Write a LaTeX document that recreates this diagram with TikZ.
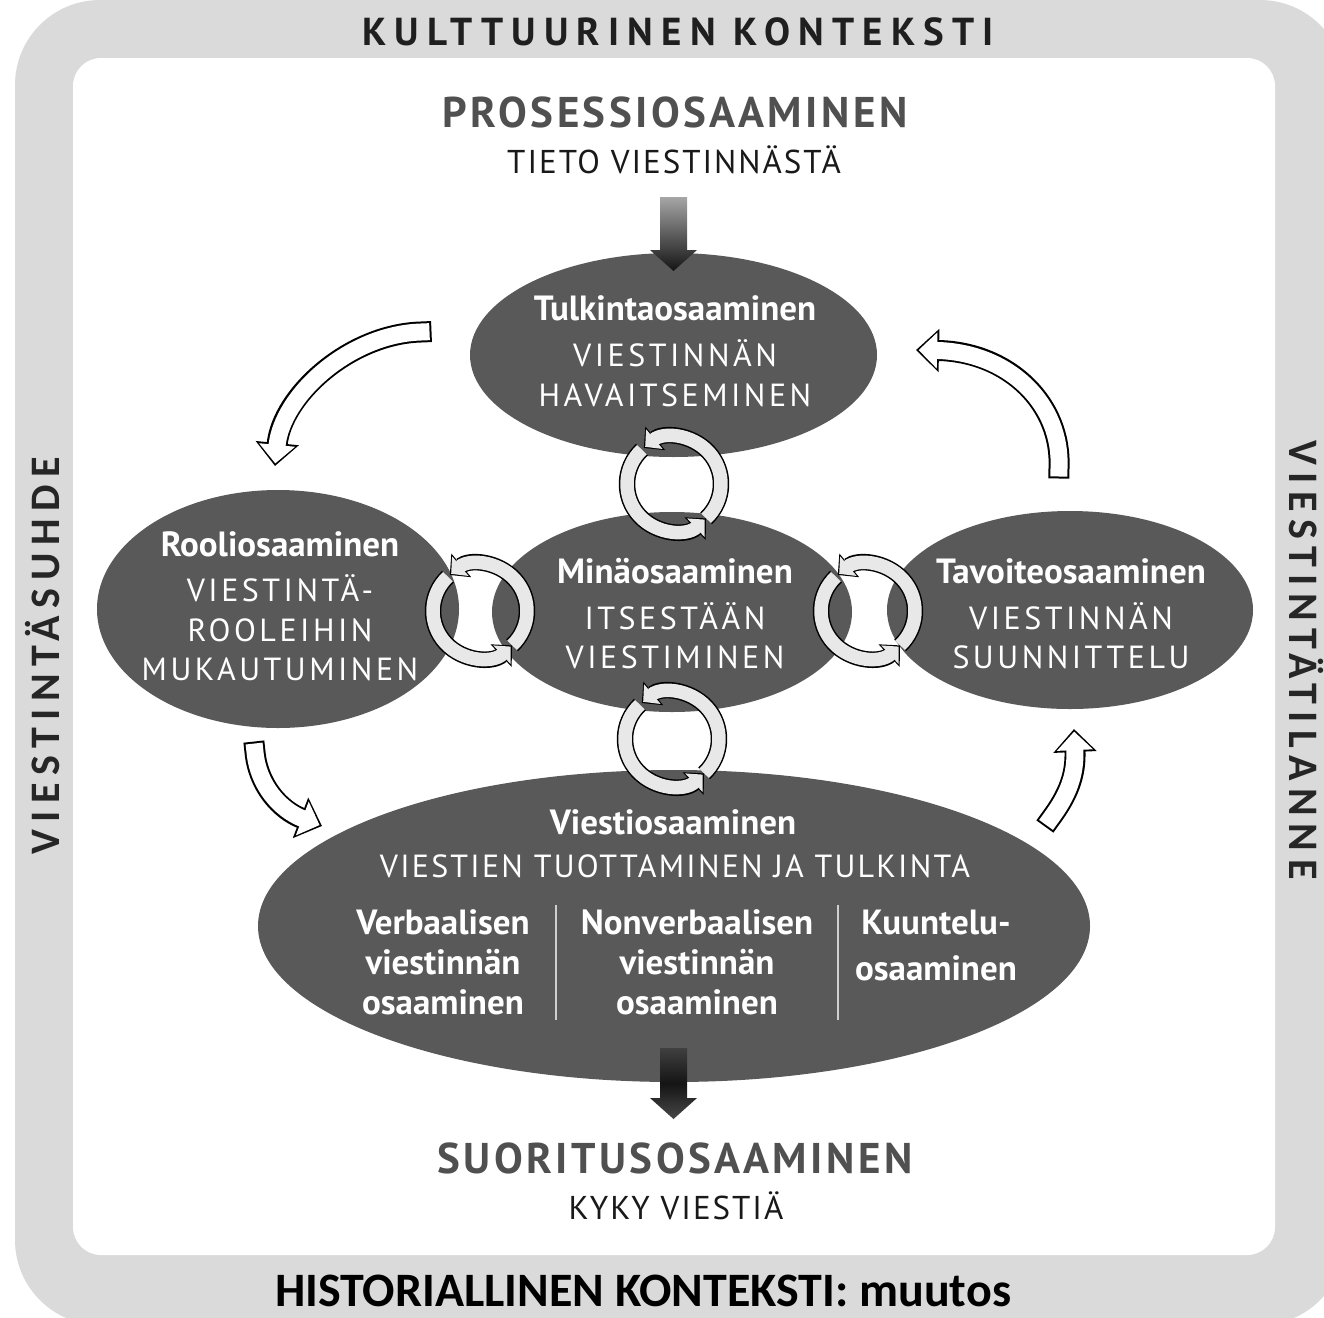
\documentclass[tikz,border=0pt]{standalone}
\usepackage{fontspec}
\setmainfont{PT Sans}
\newfontfamily\calib{Carlito}
\usetikzlibrary{arrows.meta}

\definecolor{framegray}{HTML}{D9DAD9}
\definecolor{ellgray}{HTML}{595959}
\definecolor{headgray}{HTML}{505050}
\definecolor{ringgray}{HTML}{E8E8E8}
\definecolor{divgray}{HTML}{CFCFCF}

\newcommand\labfont{\normalfont\bfseries\fontsize{35}{40}\selectfont}
\newcommand\capsfont{\fontsize{32}{39.5}\selectfont\addfontfeature{LetterSpace=11}}

\tikzset{
  ctx/.style={font=\bfseries\fontsize{39}{44}\selectfont\addfontfeature{LetterSpace=21}, text=black!88, anchor=base, inner sep=0pt},
  proc/.style={font=\bfseries\fontsize{43}{48}\selectfont\addfontfeature{LetterSpace=8}, text=headgray, anchor=base, inner sep=0pt},
  sub/.style={font=\fontsize{33}{38}\selectfont\addfontfeature{LetterSpace=6}, text=black!90, anchor=base, inner sep=0pt},
  hist/.style={font=\calib\bfseries\fontsize{48}{52}\selectfont, anchor=base, inner sep=0pt},
  side/.style={font=\calib\bfseries\fontsize{42}{46}\selectfont\addfontfeature{LetterSpace=18}, text=black!85, anchor=base, inner sep=0pt},
  eltext/.style={font=\capsfont, text=white, align=center, inner sep=0pt},
  coltext/.style={font=\labfont, text=white, align=center, inner sep=0pt},
  ell/.style={fill=ellgray},
  divider/.style={draw=divgray, line width=2pt},
  hollowout/.style={line width=21pt, line cap=rect, -{Triangle[length=23pt, width=42pt]}},
  hollowin/.style={line width=17pt, line cap=rect, white, shorten >=2.6pt, -{Triangle[length=18.5pt, width=35pt]}},
  ringout/.style={line width=16.5pt, black, -{Triangle[length=15pt, width=30pt]}},
  ringin/.style={line width=13.5pt, ringgray, shorten >=1.8pt, -{Triangle[length=12pt, width=25pt]}},
  darkdown/.style={top color=black!35, bottom color=black!92},
  darkout/.style={top color=black!75, bottom color=black!72, middle color=black!92},
}

\newcommand\hollowarrow[1]{\draw[hollowout] #1; \draw[hollowin] #1;}
\newcommand\cyclering[1]{%
  \begin{scope}[shift={(#1)}]
    \draw[ringout] (-47:47) arc[start angle=-47, end angle=130, radius=47];
    \draw[ringin] (-47:47) arc[start angle=-47, end angle=130, radius=47];
    \draw[ringout] (133:47) arc[start angle=133, end angle=313, radius=47];
    \draw[ringin] (133:47) arc[start angle=133, end angle=313, radius=47];
  \end{scope}}

\begin{document}
\begin{tikzpicture}[x=1pt, y=1pt]
  \useasboundingbox (0,0) rectangle (1324,-1317);
  \clip (0,0) rectangle (1324,-1317);
  % frame
  \fill[framegray, rounded corners=85pt] (15,0) rectangle (1345,-1325);
  \fill[white, rounded corners=28pt] (73,-58) rectangle (1275,-1255);
  \node[ctx] (kult) at (678,-45) {KULTTUURINEN KONTEKSTI};
  \node[hist] (hist) at (643,-1306) {HISTORIALLINEN KONTEKSTI: muutos};
  \node[side, rotate=90] (suhde) at (59,-656) {VIESTINTÄSUHDE};
  \node[side, rotate=-90] (tilanne) at (1289,-660) {VIESTINTÄTILANNE};
  \node[proc] (pros) at (675,-127) {PROSESSIOSAAMINEN};
  \node[sub] (tieto) at (674,-173) {TIETO VIESTINNÄSTÄ};
  \node[proc] (suor) at (675,-1173) {SUORITUSOSAAMINEN};
  \node[sub] (kyky) at (676,-1219) {KYKY VIESTIÄ};

  % ellipses
  \coordinate (tulkc) at (673.5,-355);
  \coordinate (roolic) at (278,-609);
  \coordinate (minac) at (672,-612);
  \coordinate (tavc) at (1070,-610);
  \coordinate (viestic) at (674,-926);
  \fill[ell] (tulkc) ellipse [x radius=203.5, y radius=102];
  \fill[ell] (roolic) ellipse [x radius=181, y radius=119];
  \fill[ell] (minac) ellipse [x radius=180, y radius=100];
  \fill[ell] (tavc) ellipse [x radius=183, y radius=99];
  \fill[ell] (viestic) ellipse [x radius=416, y radius=156];

  \node[eltext] (tulk) at (675,-351) {{\labfont Tulkintaosaaminen}\\[6.5pt]VIESTINNÄN\\HAVAITSEMINEN};
  \node[eltext] (rooli) at (280,-606) {{\labfont Rooliosaaminen}\\[6pt]VIESTINTÄ-\\ROOLEIHIN\\MUKAUTUMINEN};
  \node[eltext] (mina) at (675,-614) {{\labfont Minäosaaminen}\\[6pt]ITSESTÄÄN\\VIESTIMINEN};
  \node[eltext] (tav) at (1071,-614) {{\labfont Tavoiteosaaminen}\\[6pt]VIESTINNÄN\\SUUNNITTELU};
  \node[coltext] (viesti) at (673,-822) {Viestiosaaminen};
  \node[eltext, font=\fontsize{32}{38}\selectfont\addfontfeature{LetterSpace=7}] (tuott) at (675,-866) {VIESTIEN TUOTTAMINEN JA TULKINTA};
  \node[coltext] (verb) at (443,-962) {Verbaalisen\\viestinnän\\osaaminen};
  \node[coltext] (nonverb) at (697,-962) {Nonverbaalisen\\viestinnän\\osaaminen};
  \node[coltext] (kuunt) at (936,-945) {Kuuntelu-\\[6pt]osaaminen};
  \draw[divider] (556,-905) -- (556,-1020);
  \draw[divider] (838,-905) -- (838,-1020);

  % dark arrows in and out
  \path[darkdown] (660,-197) -- (687,-197) -- (687,-250) -- (697,-250) -- (673.5,-271) -- (650,-250) -- (660,-250) -- cycle;
  \path[darkout] (660,-1048) -- (687,-1048) -- (687,-1098) -- (697,-1098) -- (673.5,-1119) -- (650,-1098) -- (660,-1098) -- cycle;

  % cycles between the ellipses
  \coordinate (cyc1) at (674,-484);
  \coordinate (cyc2) at (480,-611);
  \coordinate (cyc3) at (868,-611);
  \coordinate (cyc4) at (672,-739);
  \cyclering{cyc1}
  \cyclering{cyc2}
  \cyclering{cyc3}
  \cyclering{cyc4}

  % big hollow arrows
  \hollowarrow{(421,-332) .. controls (350,-334) and (282,-395) .. (275,-466)}
  \hollowarrow{(1059,-468) .. controls (1062,-405) and (1010,-352) .. (916,-350)}
  \hollowarrow{(255,-752) .. controls (258,-785) and (280,-810) .. (322,-826)}
  \hollowarrow{(1051,-818) .. controls (1068,-795) and (1076,-775) .. (1074,-729)}
\end{tikzpicture}
\end{document}
